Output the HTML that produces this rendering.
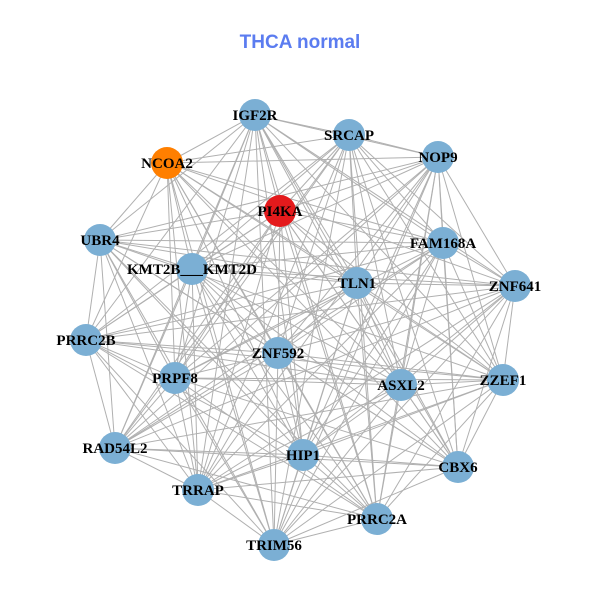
<!DOCTYPE html>
<html><head><style>
body{margin:0;background:#fff;}
svg text{font-family:"Liberation Serif",serif;font-weight:bold;font-size:15px;fill:#000;}
</style></head><body>
<svg id="s" width="600" height="600" xmlns="http://www.w3.org/2000/svg">
<rect width="600" height="600" fill="#fff"/>
<text x="300" y="48" text-anchor="middle" style="font-family:'Liberation Sans',sans-serif;font-size:19px;fill:#5b7cf0">THCA normal</text>
<g id="e" stroke="#b0b0b0" stroke-width="1"></g>
<g id="n"></g>
</svg>
<script>
var N=[["IGF2R",255,115],["SRCAP",349,135],["NOP9",438,157],["NCOA2",167,163,"#ff7f00"],["PI4KA",280,211,"#e41a1c"],["UBR4",100,240],["FAM168A",443,243],["KMT2B___KMT2D",192,269],["TLN1",357,283],["ZNF641",515,286],["PRRC2B",86,340],["ZNF592",278,353],["PRPF8",175,378],["ZZEF1",503,380],["ASXL2",401,385],["RAD54L2",115,448],["HIP1",303,455],["CBX6",458,467],["TRRAP",198,490],["PRRC2A",377,519],["TRIM56",274,545]];
var ns="http://www.w3.org/2000/svg",e=document.getElementById("e"),g=document.getElementById("n");
for(var i=0;i<N.length;i++)for(var j=i+1;j<N.length;j++){if((i*7+j*3)%11==0)continue;var l=document.createElementNS(ns,"line");l.setAttribute("x1",N[i][1]);l.setAttribute("y1",N[i][2]);l.setAttribute("x2",N[j][1]);l.setAttribute("y2",N[j][2]);e.appendChild(l);}
N.forEach(function(d){var c=document.createElementNS(ns,"circle");c.setAttribute("cx",d[1]);c.setAttribute("cy",d[2]);c.setAttribute("r",16);c.setAttribute("fill",d[3]||"#7bafd4");g.appendChild(c);});
N.forEach(function(d){var t=document.createElementNS(ns,"text");t.setAttribute("x",d[1]);t.setAttribute("y",d[2]+5);t.setAttribute("text-anchor","middle");t.textContent=d[0];g.appendChild(t);});
</script>
</body></html>
